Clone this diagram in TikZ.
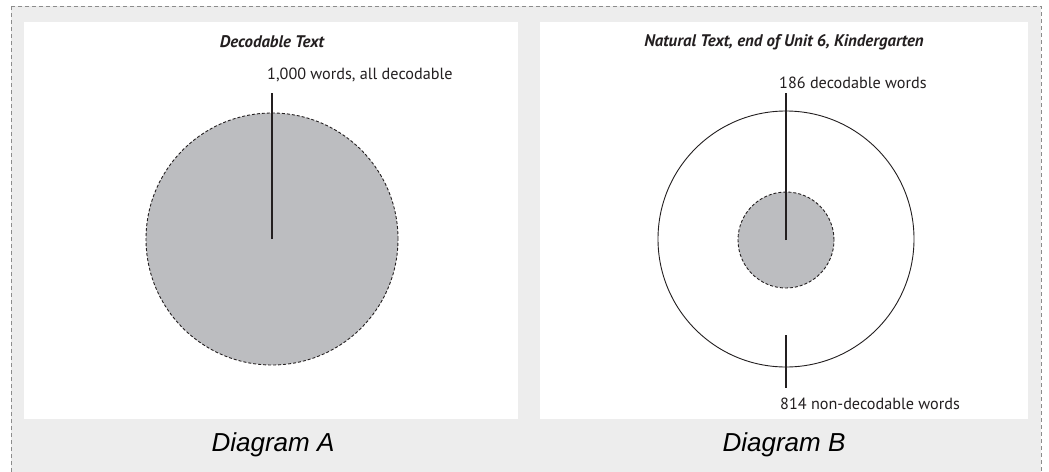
\documentclass[tikz,border=0pt]{standalone}
\usepackage{fontspec}
\setmainfont{PT Sans}
\newfontfamily\capfont{Liberation Sans}
\usepackage{tikz}
\usetikzlibrary{positioning, calc}

\definecolor{framegray}{HTML}{8C8C8C}
\definecolor{backgray}{HTML}{EDEDED}
\definecolor{wordgray}{HTML}{BCBDC0}
\definecolor{inkgray}{HTML}{231F20}

\tikzset{
  panelbox/.style={fill=white, draw=none},
  wordcircle/.style={circle, inner sep=0pt, draw=inkgray, line width=0.9pt},
  decodable/.style={wordcircle, fill=wordgray, dash pattern=on 3pt off 2pt},
  pointer/.style={draw=inkgray, line width=1.6pt},
  titletext/.style={font=\fontsize{16.8}{20}\selectfont\bfseries\itshape, text=inkgray, inner sep=0pt},
  wordlabel/.style={font=\fontsize{16.2}{19}\selectfont, text=inkgray, inner sep=0pt, anchor=west},
  diagcaption/.style={font=\capfont\itshape\fontsize{26}{31}\selectfont, inner sep=0pt}
}

\begin{document}
\begin{tikzpicture}[x=1pt, y=-1pt]
\useasboundingbox (0,0) rectangle (1049,471);

% outer frame and the two white panels
\draw[framegray, fill=backgray, line width=0.9pt, dash pattern=on 4pt off 3pt] (11,6) rectangle (1041,490);
\fill[panelbox] (24,22) rectangle (518,419);
\fill[panelbox] (540,22) rectangle (1028,419);

% Diagram A: all words decodable
\node[titletext] (titleA) at (272,42) {Decodable Text};
\node[wordlabel] (labA) at (267,75) {1,000 words, all decodable};
\node[decodable, minimum size=252pt] (circA) at (272,239) {};
\coordinate (tipA) at (272,93);
\draw[pointer] (circA.center) -- (tipA);
\node[diagcaption] (capA) at (273,445) {Diagram A};

% Diagram B: natural text
\node[titletext] (titleB) at (784,42) {Natural Text, end of Unit 6, Kindergarten};
\node[wordlabel] (labB) at (779,83) {186 decodable words};
\node[wordcircle, minimum size=256pt] (outB) at (786,239) {};
\node[decodable, minimum size=96pt] (inB) at (786,240) {};
\coordinate (tipB) at (786,93);
\draw[pointer] (inB.center) -- (tipB);
\node[wordlabel] (labNon) at (780,404) {814 non-decodable words};
\coordinate (lowB) at (786,335);
\coordinate (endB) at (786,388);
\draw[pointer] (lowB) -- (endB);
\node[diagcaption] (capB) at (784,445) {Diagram B};

\end{tikzpicture}
\end{document}
